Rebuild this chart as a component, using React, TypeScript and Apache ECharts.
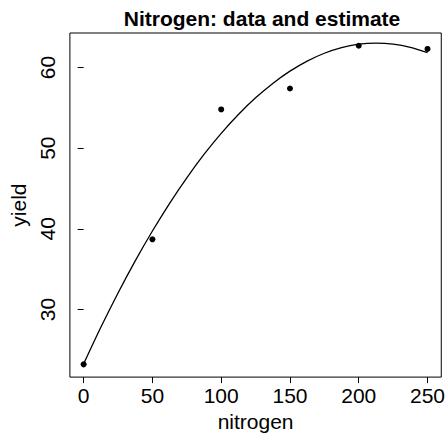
import React, { useEffect, useRef } from "react";
import * as echarts from "echarts";

const nitrogen = [0, 50, 100, 150, 200, 250];
const yieldValues = [23.2, 38.7, 54.8, 57.4, 62.7, 62.3];

const estimateX = [0, 12.5, 25, 37.5, 50, 62.5, 75, 87.5, 100, 112.5, 125, 137.5, 150, 162.5, 175, 187.5, 200, 212.5, 225, 237.5, 250];
const estimateY = [23.26, 27.79, 32.05, 36.03, 39.73, 43.17, 46.33, 49.22, 51.83, 54.17, 56.24, 58.03, 59.55, 60.8, 61.77, 62.47, 62.89, 63.03, 62.91, 62.51, 61.84];

const xTicks = [0, 50, 100, 150, 200, 250];
const yTicks = [30, 40, 50, 60];

const FONT = "Liberation Sans, Arial, Helvetica, sans-serif";

export default function App() {
  const ref = useRef<HTMLDivElement>(null);
  useEffect(() => {
    if (!ref.current) return;
    const chart = echarts.init(ref.current, undefined, { renderer: "svg" });
    chart.setOption({
      animation: false,
      backgroundColor: "#fff",
      textStyle: { fontFamily: FONT },
      title: {
        text: "Nitrogen: data and estimate",
        left: 257,
        top: 3,
        textAlign: "center",
        textStyle: { fontFamily: FONT, fontWeight: "bold", fontSize: 21, color: "#000" },
      },
      grid: {
        left: 69,
        right: 3,
        top: 33,
        bottom: 54,
        show: true,
        borderColor: "#000",
        borderWidth: 1,
        backgroundColor: "transparent",
      },
      xAxis: {
        type: "value",
        min: -10,
        max: 260,
        name: "nitrogen",
        nameLocation: "middle",
        nameGap: 32,
        nameTextStyle: { fontFamily: FONT, fontSize: 21, color: "#000" },
        axisLine: { show: false },
        splitLine: { show: false },
        axisTick: { show: true, length: 6, lineStyle: { color: "#000" }, customValues: xTicks },
        axisLabel: { fontFamily: FONT, fontSize: 21, color: "#000", margin: 8, customValues: xTicks },
      },
      yAxis: {
        type: "value",
        min: 21.62,
        max: 64.28,
        name: "yield",
        nameLocation: "middle",
        nameGap: 36,
        nameRotate: 90,
        nameTextStyle: { fontFamily: FONT, fontSize: 21, color: "#000" },
        axisLine: { show: false },
        splitLine: { show: false },
        axisTick: { show: true, length: 6, lineStyle: { color: "#000" }, customValues: yTicks },
        axisLabel: { fontFamily: FONT, fontSize: 21, color: "#000", margin: 12, rotate: 90, customValues: yTicks },
      },
      series: [
        {
          type: "line",
          data: estimateX.map((x, i) => [x, estimateY[i]]),
          smooth: 0.3,
          showSymbol: false,
          lineStyle: { color: "#000", width: 1.3 },
          silent: true,
        },
        {
          type: "scatter",
          data: nitrogen.map((x, i) => [x, yieldValues[i]]),
          symbol: "circle",
          symbolSize: 6,
          itemStyle: { color: "#000", opacity: 1 },
        },
      ],
    });
    return () => chart.dispose();
  }, []);
  return (
    <div
      ref={ref}
      style={{ position: "absolute", left: 0, top: 0, width: 448, height: 437 }}
    />
  );
}
